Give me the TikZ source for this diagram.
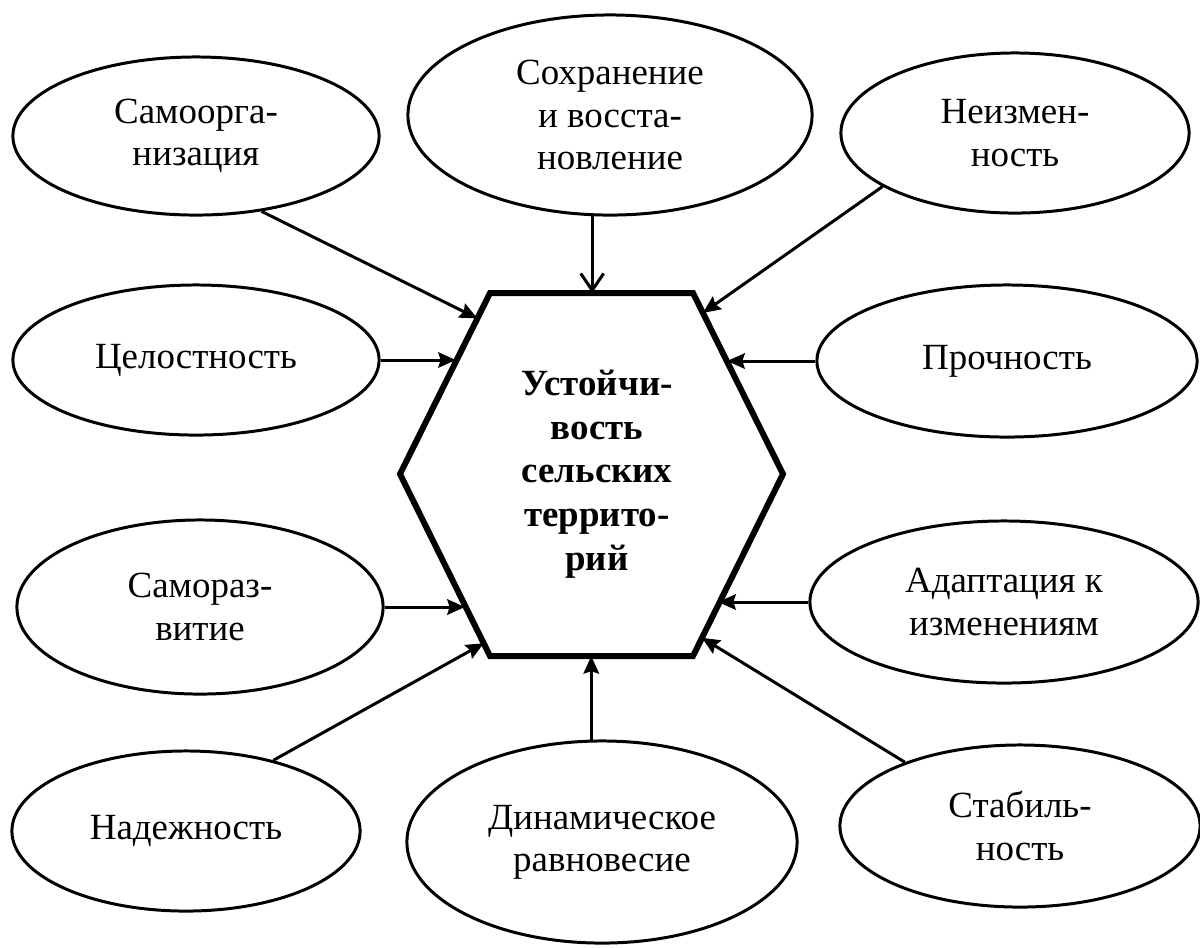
\documentclass[tikz,border=0pt]{standalone}
\usepackage{fontspec}
\setmainfont{Liberation Serif}
\usetikzlibrary{shapes.geometric,arrows.meta,calc}

\begin{document}
\begin{tikzpicture}[x=0.01cm,y=-0.01cm,
	ell/.style={draw,ellipse,line width=0.85pt,inner sep=0pt,align=center,font=\fontsize{10.5}{12}\selectfont},
	arr/.style={line width=0.85pt,-{Stealth[length=5pt,width=4.4pt,inset=0.7pt]}},
	barb/.style={line width=0.85pt,-{Straight Barb[length=4.8pt,width=6.5pt]}}]
	\useasboundingbox (0,0) rectangle (1200,947);
	% central hexagon
	\coordinate (hTL) at (490,293);
	\coordinate (hTR) at (693,293);
	\coordinate (hR) at (783,474);
	\coordinate (hBR) at (693,656);
	\coordinate (hBL) at (490,656);
	\coordinate (hL) at (400,474);
	\draw[line width=1.7pt,line join=miter] (hTL) -- (hTR) -- (hR) -- (hBR) -- (hBL) -- (hL) -- cycle;
	\node[align=center,font=\fontsize{10.5}{12.4}\selectfont\bfseries] (core) at (597,474) {Устойчи-\\вость\\сельских\\террито-\\рий};

	% ellipses round it
	\node[ell,minimum width=3.66cm,minimum height=1.58cm] (samo) at (196,136) {Самоорга-\\низация};
	\node[ell,minimum width=4.04cm,minimum height=2.00cm] (sohr) at (610,115) {Сохранение\\и восста-\\новление};
	\node[ell,minimum width=3.48cm,minimum height=1.60cm] (neizm) at (1015,133) {Неизмен-\\ность};
	\node[ell,minimum width=3.66cm,minimum height=1.50cm] (cel) at (196,360) {Целостность};
	\node[ell,minimum width=3.80cm,minimum height=1.52cm] (proch) at (1007,361) {Прочность};
	\node[ell,minimum width=3.66cm,minimum height=1.74cm] (samoraz) at (200,607) {Самораз-\\витие};
	\node[ell,minimum width=3.88cm,minimum height=1.62cm] (adapt) at (1004,602) {Адаптация к\\изменениям};
	\node[ell,minimum width=3.48cm,minimum height=1.60cm] (nadezh) at (186,831) {Надежность};
	\node[ell,minimum width=3.90cm,minimum height=2.02cm] (dinam) at (602,842) {Динамическое\\равновесие};
	\node[ell,minimum width=3.60cm,minimum height=1.62cm] (stab) at (1020,826) {Стабиль-\\ность};

	% arrows to the hexagon
	\coordinate (eCel) at ($(hTL)!0.38!(hL)$);
	\coordinate (eProch) at ($(hTR)!0.38!(hR)$);
	\coordinate (eSamoraz) at ($(hL)!0.72!(hBL)$);
	\coordinate (eAdapt) at ($(hR)!0.72!(hBR)$);
	\draw[arr] (samo.-49) -- ($(hTL)!0.14!(hL)$);
	\draw[barb] (sohr.-100) -- (sohr.-100 |- hTL);
	\draw[arr] (neizm.-158) -- ($(hTR)!0.11!(hR)$);
	\draw[arr] (cel.east) -- (cel.east -| eCel);
	\draw[arr] (proch.west) -- (proch.west -| eProch);
	\draw[arr] (samoraz.east) -- (samoraz.east -| eSamoraz);
	\draw[arr] (adapt.west) -- (adapt.west -| eAdapt);
	\draw[arr] (nadezh.39) -- ($(hL)!0.93!(hBL)$);
	\draw[arr] (dinam.96) -- (dinam.96 |- hBL);
	\draw[arr] (stab.151) -- ($(hR)!0.9!(hBR)$);
\end{tikzpicture}
\end{document}
